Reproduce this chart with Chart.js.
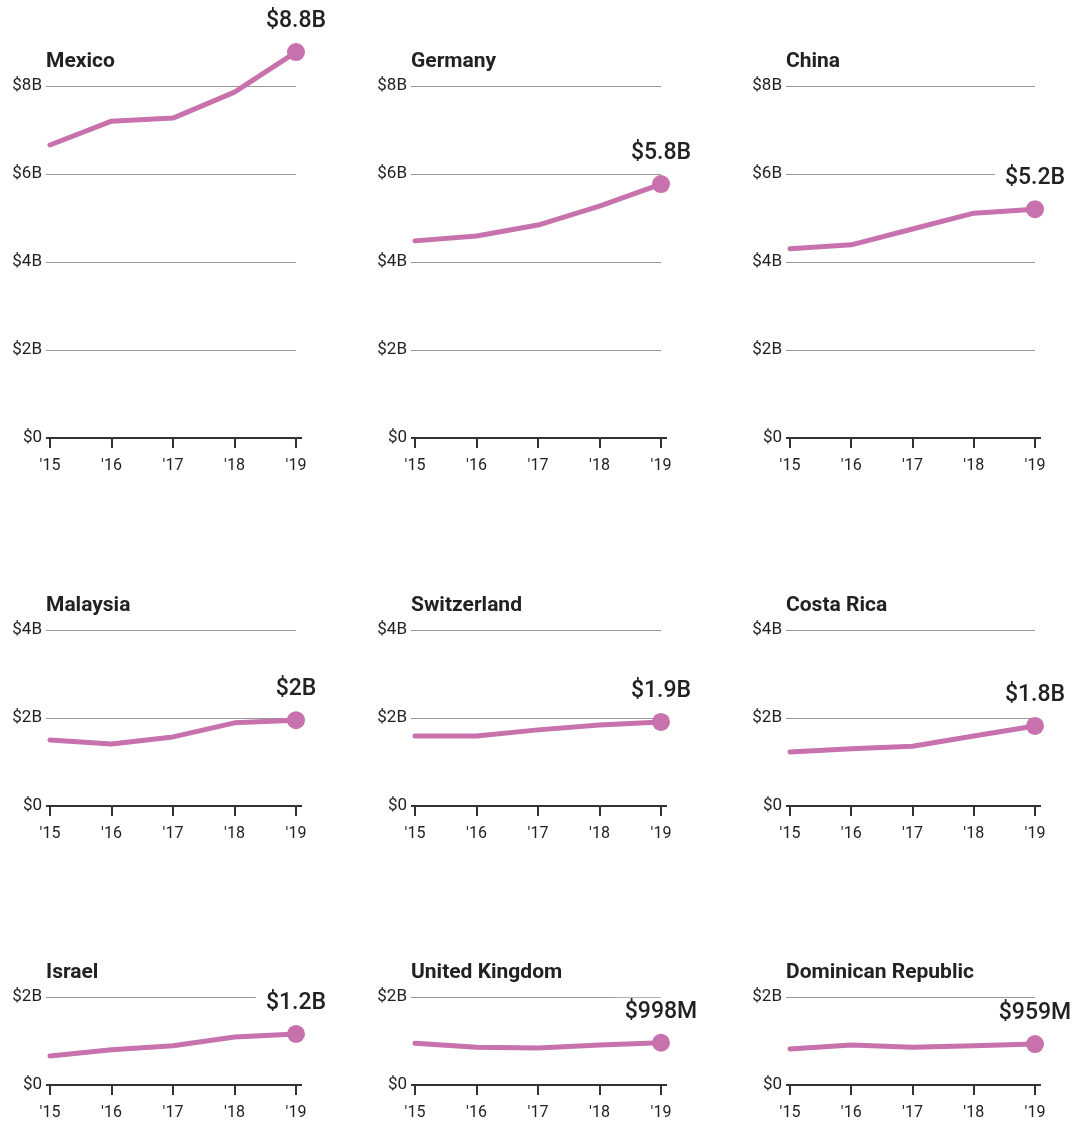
<!DOCTYPE html>
<html>
<head>
<meta charset="utf-8">
<script src="https://cdn.jsdelivr.net/npm/chart.js@4"></script>
<style>
  html, body { margin: 0; padding: 0; background: #fff; }
  #wrap { position: relative; width: 1086px; height: 1129px; overflow: hidden; }
  #wrap canvas { position: absolute; }
</style>
</head>
<body>
<div id="wrap"></div>
<script>
// data
var years = ["'15", "'16", "'17", "'18", "'19"];
var countries = ['Mexico', 'Germany', 'China', 'Malaysia', 'Switzerland', 'Costa Rica', 'Israel', 'United Kingdom', 'Dominican Republic'];

var mexico      = [6.66, 7.20, 7.27, 7.86, 8.77];
var germany     = [4.48, 4.59, 4.84, 5.27, 5.77];
var china       = [4.30, 4.39, 4.75, 5.11, 5.20];
var malaysia    = [1.50, 1.41, 1.57, 1.89, 1.95];
var switzerland = [1.59, 1.59, 1.73, 1.84, 1.91];
var costaRica   = [1.23, 1.30, 1.36, 1.59, 1.82];
var israel      = [0.66, 0.80, 0.89, 1.09, 1.16];
var uk          = [0.95, 0.86, 0.84, 0.91, 0.96];
var dominican   = [0.82, 0.91, 0.86, 0.89, 0.93];

var endLabels = ['$8.8B', '$5.8B', '$5.2B', '$2B', '$1.9B', '$1.8B', '$1.2B', '$998M', '$959M'];
var yMaxes = [8, 8, 8, 4, 4, 4, 2, 2, 2];

var series = [mexico, germany, china, malaysia, switzerland, costaRica, israel, uk, dominican];

// layout of the 3x3 grid
var colLeft  = [50, 415, 790];
var colRight = [296, 661, 1035];
var rowTop    = [86, 630, 997];
var rowBottom = [438, 806, 1085];

var LINE = '#c771ad';
var INK = '#222';
var FONT = 'Roboto, "Noto Sans", sans-serif';

Chart.defaults.font.family = FONT;
Chart.defaults.color = INK;

var panelPlugin = {
    id: 'panel',
    beforeDatasetsDraw: function(chart) {
        var ctx = chart.ctx, a = chart.chartArea;
        var y0 = chart.scales.y.getPixelForValue(0);
        ctx.save();
        ctx.strokeStyle = '#333';
        ctx.lineWidth = 2;
        ctx.beginPath();
        ctx.moveTo(a.left - 4, y0);
        ctx.lineTo(a.right + 6, y0);
        ctx.stroke();
        ctx.restore();
    },
    afterDatasetsDraw: function(chart, args, opts) {
        var ctx = chart.ctx, a = chart.chartArea;
        var pt = chart.getDatasetMeta(0).data[4];
        ctx.save();
        // end dot (drawn here so it shows even above the top gridline)
        ctx.fillStyle = LINE;
        ctx.beginPath();
        ctx.arc(pt.x, pt.y, 9, 0, Math.PI * 2);
        ctx.fill();
        // end value label, white box hides the gridline behind it
        ctx.font = '500 23px ' + FONT;
        var w = ctx.measureText(opts.label).width;
        var ly = pt.y - 32;
        ctx.fillStyle = '#fff';
        ctx.fillRect(pt.x - w / 2 - 10, ly - 13, w + 20, 26);
        ctx.fillStyle = INK;
        ctx.textAlign = 'center';
        ctx.textBaseline = 'middle';
        ctx.fillText(opts.label, pt.x, ly + 1);
        // title
        ctx.font = 'bold 21px ' + FONT;
        ctx.textAlign = 'left';
        ctx.fillText(opts.title, a.left - 4, a.top - 24);
        ctx.restore();
    }
};

var wrap = document.getElementById('wrap');

countries.forEach(function(name, i) {
    var col = i % 3, row = Math.floor(i / 3);
    var padTop = 90, axisH = 44, padBottom = 5, yAxisW = 50, canvasW = 350;
    var plotW = colRight[col] - colLeft[col];
    var plotH = rowBottom[row] - rowTop[row];

    var canvas = document.createElement('canvas');
    canvas.width = canvasW;
    canvas.height = padTop + plotH + axisH + padBottom;
    canvas.style.left = (colLeft[col] - yAxisW) + 'px';
    canvas.style.top = (rowTop[row] - padTop) + 'px';
    canvas.style.width = canvas.width + 'px';
    canvas.style.height = canvas.height + 'px';
    wrap.appendChild(canvas);

    new Chart(canvas.getContext('2d'), {
        type: 'line',
        data: {
            labels: years,
            datasets: [{
                data: series[i],
                borderColor: LINE,
                backgroundColor: LINE,
                borderWidth: 5,
                borderCapStyle: 'round',
                borderJoinStyle: 'round',
                tension: 0,
                clip: false,
                pointRadius: 0,
                pointHoverRadius: 0
            }]
        },
        options: {
            responsive: false,
            animation: false,
            events: [],
            layout: { padding: { top: padTop, bottom: padBottom, left: 0, right: canvasW - yAxisW - plotW } },
            plugins: {
                legend: { display: false },
                tooltip: { enabled: false },
                panel: { label: endLabels[i], title: name }
            },
            scales: {
                x: {
                    offset: false,
                    afterFit: function(s) { s.height = axisH; },
                    border: { display: false },
                    grid: { drawOnChartArea: false, drawTicks: true, tickLength: 10, color: '#333', lineWidth: 2 },
                    ticks: { padding: 8, font: { size: 16 }, color: INK, maxRotation: 0, autoSkip: false }
                },
                y: {
                    min: 0,
                    max: yMaxes[i],
                    afterFit: function(s) { s.width = yAxisW; },
                    border: { display: false },
                    grid: {
                        color: function(c) { return c.tick && c.tick.value === 0 ? 'rgba(0,0,0,0)' : '#999'; },
                        tickColor: function(c) { return c.tick && c.tick.value === 0 ? 'rgba(0,0,0,0)' : '#999'; },
                        lineWidth: 1,
                        tickLength: 4
                    },
                    ticks: {
                        stepSize: 2,
                        padding: 4,
                        font: { size: 17 },
                        color: INK,
                        callback: function(v) { return v === 0 ? '$0' : '$' + v + 'B'; }
                    }
                }
            }
        },
        plugins: [panelPlugin]
    });
});
</script>
</body>
</html>
